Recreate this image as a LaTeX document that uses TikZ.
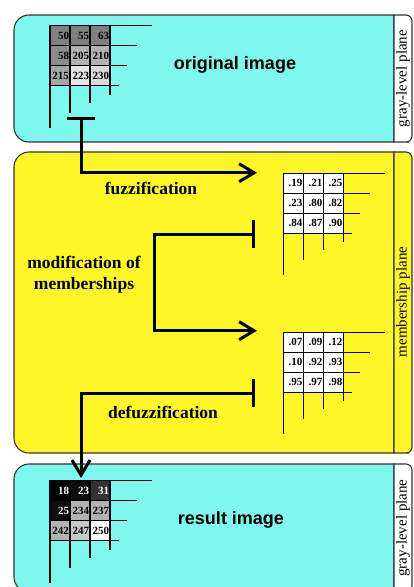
\documentclass[tikz,border=0pt]{standalone}
\usepackage{fontspec}
\setmainfont{Liberation Serif}
\setsansfont{Liberation Sans}
\usetikzlibrary{arrows.meta}
\definecolor{planecyan}{RGB}{126,247,238}
\definecolor{planeyellow}{RGB}{255,246,40}
\tikzset{
  plane/.style={draw=black!80, line width=1.1pt},
  gridline/.style={line width=1.2pt},
  cell/.style={draw, line width=1.2pt, minimum size=20pt, inner sep=0pt, text width=18pt, align=right, font=\bfseries\fontsize{11}{12}\selectfont},
  planelabel/.style={rotate=90, font=\fontsize{15}{17}\selectfont},
  steplabel/.style={font=\bfseries\fontsize{17.5}{21}\selectfont, align=center},
  imagelabel/.style={font=\sffamily\bfseries\fontsize{18}{21}\selectfont},
  flow/.style={line width=3pt, {Bar[width=28pt]}-{Straight Barb[length=15pt,width=18pt]}},
}
\newcommand{\stackgrid}[2]{%
  \foreach \i/\e in {0/42,1/27,2/17,3/9} {
    \draw[gridline] (#1,#2+20*\i) -- (#1+60+\e,#2+20*\i);
    \draw[gridline] (#1+20*\i,#2) -- (#1+20*\i,#2+60+\e);
  }}
\newcommand{\stackcells}[4]{%
  \foreach \v/\f/\t [count=\k from 0] in {#4} {
    \pgfmathtruncatemacro{\c}{mod(\k,3)}
    \pgfmathtruncatemacro{\r}{\k/3}
    \node[cell, fill=\f, text=\t] (#1-\k) at (#2+20*\c+10,#3+20*\r+10) {\v};
  }}
\newcommand{\planebox}[3]{%
  \draw[plane, fill=#3] (200,#1) [rounded corners=15pt] -- (14,#1) -- (14,#2) -- (200,#2) [sharp corners] -- (394,#2) -- (394,#1) -- cycle;}
\newcommand{\planestrip}[3]{%
  \draw[plane, fill=#3] (403,#1) [rounded corners=6pt] -- (412,#1) -- (412,#2) -- (403,#2) [sharp corners] -- (394,#2) -- (394,#1) -- cycle;}
\begin{document}
\begin{tikzpicture}[x=1pt,y=-1pt]
    \useasboundingbox (0,0) rectangle (413,587);
    \clip (0,0) rectangle (413,587);
    \planebox{15}{142}{planecyan}
    \planestrip{15}{142}{white}
    \planebox{152}{453}{planeyellow}
    \planestrip{152}{453}{planeyellow}
    \planebox{464}{592}{planecyan}
    \planestrip{464}{592}{white}
    \node[planelabel] (graytop) at (403,78.5) {gray-level plane};
    \node[planelabel] (member) at (403,302) {membership plane};
    \node[planelabel] (graybot) at (403,528) {gray-level plane};
    \stackcells{orig}{50}{25.7}{50/black!50/black, 55/black!50/black, 63/black!50/black, 58/black!45/black, 205/black!30/black, 210/black!30/black, 215/black!35/black, 223/black!10/black, 230/black!14/black}
    \stackgrid{50}{25.7}
    \stackcells{fuz}{283.3}{173.3}{.19/white/black, .21/white/black, .25/white/black, .23/white/black, .80/white/black, .82/white/black, .84/white/black, .87/white/black, .90/white/black}
    \stackgrid{283.3}{173.3}
    \stackcells{mod}{283.3}{332.3}{.07/white/black, .09/white/black, .12/white/black, .10/white/black, .92/white/black, .93/white/black, .95/white/black, .97/white/black, .98/white/black}
    \stackgrid{283.3}{332.3}
    \stackcells{res}{50}{480.7}{18/black/white, 23/black!95/white, 31/black!80/white, 25/black!95/white, 234/black!30/black, 237/black!30/black, 242/black!30/black, 247/black!22/black, 250/white/black}
    \stackgrid{50}{480.7}
    \node[imagelabel] (orig) at (235,65) {original image};
    \node[imagelabel] (res) at (231,520) {result image};
    \node[steplabel] (fuzlabel) at (151,188) {fuzzification};
    \node[steplabel] (modlabel) at (84,275) {modification of\\memberships};
    \node[steplabel] (defuzlabel) at (163,412.7) {defuzzification};
    \coordinate (fuzstart) at (81,116.7);
    \coordinate (fuztip) at (257,172.7);
    \coordinate (modstart) at (255,234.3);
    \coordinate (modturn) at (154.3,282);
    \coordinate (modtip) at (257,330.7);
    \coordinate (defuzstart) at (255,393.3);
    \coordinate (defuztip) at (81,478);
    \draw[flow] (fuzstart) |- (fuztip);
    \draw[flow] (modstart) -| (modturn) |- (modtip);
    \draw[flow] (defuzstart) -| (defuztip);
\end{tikzpicture}
\end{document}
